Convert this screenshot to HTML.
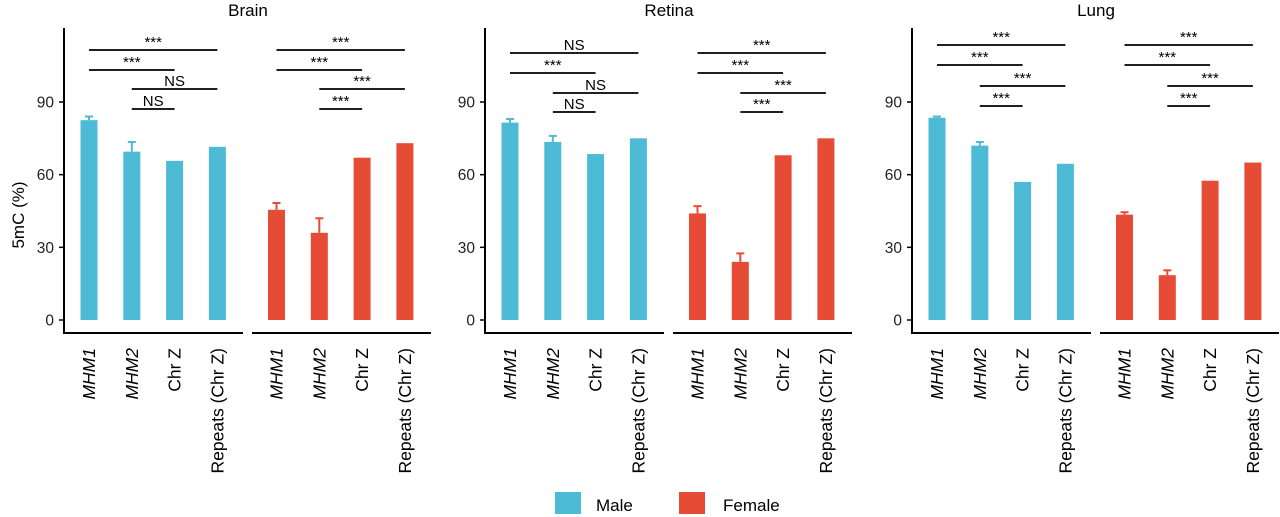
<!DOCTYPE html>
<html><head><meta charset="utf-8"><style>
html,body{margin:0;padding:0;background:#fff;}
svg{display:block;font-family:"Liberation Sans",Arial,sans-serif;}
</style></head><body>
<svg id="chart" width="1280" height="517" viewBox="0 0 1280 517"></svg>
<script>
const panels = ["Brain","Retina","Lung"];
const categories = ["MHM1","MHM2","Chr Z","Repeats (Chr Z)"];
const italicCats = [true,true,false,false];
const maleValues = [[82.5,69.5,65.7,71.5],[81.5,73.5,68.5,75],[83.5,72,57,64.5]];
const maleErr = [[1.5,4,0,0],[1.5,2.5,0,0],[0.5,1.5,0,0]];
const femaleValues = [[45.5,36,67,73],[44,24,68,75],[43.5,18.5,57.5,65]];
const femaleErr = [[2.8,6,0,0],[3,3.5,0,0],[1,2,0,0]];
const yTicks = [0,30,60,90];
const maleSig = [["***","***","NS","NS"],["NS","***","NS","NS"],["***","***","***","***"]];
const femaleSig = [["***","***","***","***"],["***","***","***","***"],["***","***","***","***"]];
const sigLevels = [[50,70,89,109],[53,73,93,112],[45,65,86,106]];

const NS="http://www.w3.org/2000/svg";
const svg=document.getElementById('chart');
function el(tag,attrs,parent){const e=document.createElementNS(NS,tag);for(const k in attrs)e.setAttribute(k,attrs[k]);(parent||svg).appendChild(e);return e;}
const axisX=[64,485,912];
const y0=320, yPer=(320-102)/90;
const yScale=v=>y0-v*yPer;
const groupStart=25, step=42.8, groupGap=187.5;
const xScale=(p,g,i)=>axisX[p]+groupStart+g*groupGap+i*step;
const sigPairs=[[0,3],[0,2],[1,3],[1,2]];
const colors=["#4DBBD5","#E64B35"];

const yl=el('text',{x:0,y:0,transform:'translate(24,215) rotate(-90)','text-anchor':'middle','font-size':17,fill:'#000'});
yl.textContent='5mC (%)';



panels.forEach((pn,p)=>{
  const g=el('g',{});
  
  
  const t=el('text',{x:axisX[p]+184,y:16,'text-anchor':'middle','font-size':17,fill:'#000'},g);
  t.textContent=pn;
  
  
  el('line',{x1:axisX[p],x2:axisX[p],y1:28,y2:334,stroke:'#000','stroke-width':2},g);
  yTicks.forEach(v=>{
    el('line',{x1:axisX[p]-5,x2:axisX[p],y1:yScale(v),y2:yScale(v),stroke:'#000','stroke-width':1.5},g);
    const tl=el('text',{x:axisX[p]-10,y:yScale(v)+5.5,'text-anchor':'end','font-size':15.5,fill:'#222'},g);
    tl.textContent=v;
    
    
  });
  [0,1].forEach(gi=>{
    const xa=gi===0?axisX[p]:axisX[p]+188;
    el('line',{x1:xa,x2:xa+179,y1:333,y2:333,stroke:'#000','stroke-width':2},g);
    const vals=gi===0?maleValues[p]:femaleValues[p];
    const errs=gi===0?maleErr[p]:femaleErr[p];
    const sig=gi===0?maleSig[p]:femaleSig[p];
    vals.forEach((v,i)=>{
      const cx=xScale(p,gi,i);
      const b=el('rect',{x:cx-8.5,y:yScale(v),width:17,height:y0-yScale(v),fill:colors[gi]},g);
      
      
      if(errs[i]>0){
        el('line',{x1:cx,x2:cx,y1:yScale(v),y2:yScale(v+errs[i]),stroke:colors[gi],'stroke-width':2},g);
        el('line',{x1:cx-4,x2:cx+4,y1:yScale(v+errs[i]),y2:yScale(v+errs[i]),stroke:colors[gi],'stroke-width':2},g);
      }
      const lx=cx+6, ly=348;
      const lab=el('text',{x:0,y:0,transform:`translate(${lx},${ly}) rotate(-90)`,'text-anchor':'end','font-size':17.5,fill:'#000','font-style':italicCats[i]?'italic':'normal'},g);
      lab.textContent=categories[i];
      
      
    });
    sigPairs.forEach((pr,k)=>{
      const x1=xScale(p,gi,pr[0]), x2=xScale(p,gi,pr[1]), yy=sigLevels[p][k];
      el('line',{x1:x1,x2:x2,y1:yy,y2:yy,stroke:'#000','stroke-width':1.8},g);
      const s=sig[k];
      const st=el('text',{x:(x1+x2)/2,y:s==='NS'?yy-3:yy-3,'text-anchor':'middle','font-size':s==='NS'?15:15,fill:'#000'},g);
      st.textContent=s;
      
      
    });
  });
});
const lg=el('g',{});


[['Male',555,596],['Female',679,723]].forEach((d,i)=>{
  const r=el('rect',{x:d[1],y:492,width:26,height:22,fill:colors[i]},lg);
  
  
  const t=el('text',{x:d[2],y:511,'font-size':17,fill:'#000'},lg);
  t.textContent=d[0];
  
  
});
</script>
</body></html>
